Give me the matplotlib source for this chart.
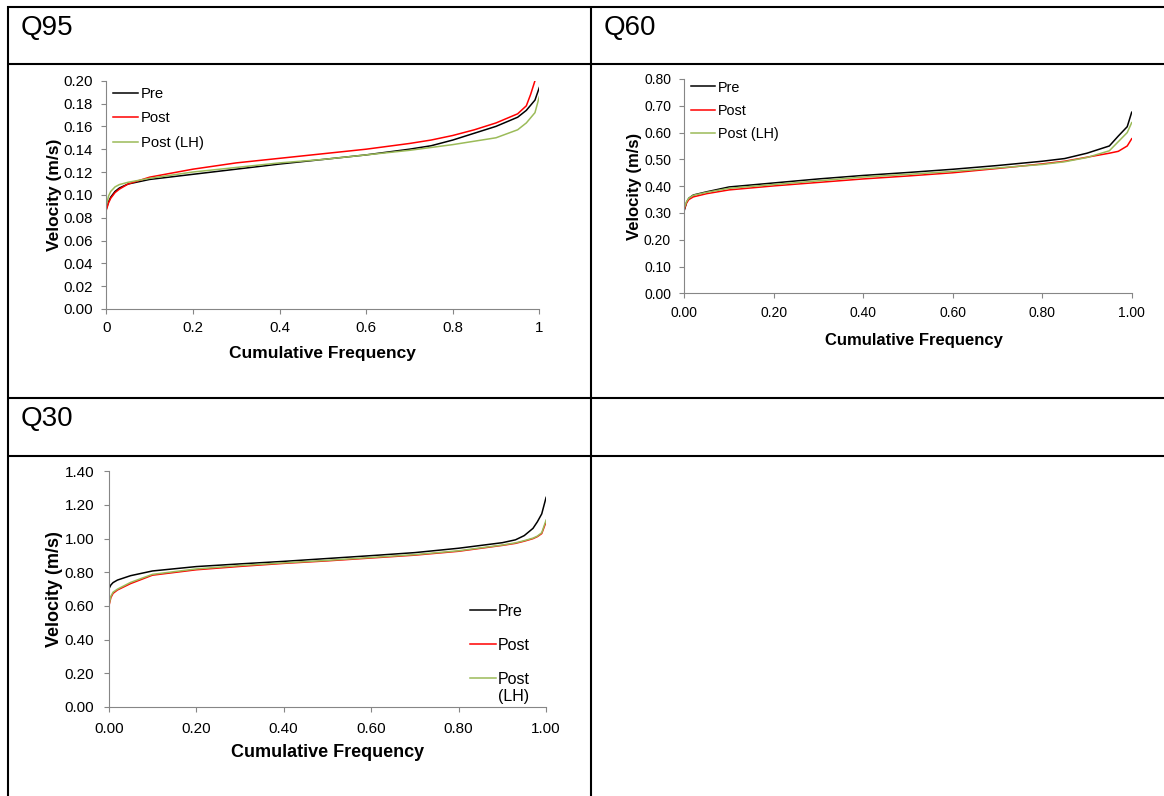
import numpy as np
import matplotlib
matplotlib.use("Agg")
import matplotlib.pyplot as plt
from matplotlib.lines import Line2D
from matplotlib.legend_handler import HandlerLine2D
from matplotlib.ticker import FuncFormatter

plt.rcParams['font.family'] = ['Liberation Sans', 'DejaVu Sans']

# ---------------- data ----------------
series_names = ["Pre", "Post", "Post (LH)"]

# Q95
q95_freq = [0, 0.005, 0.01, 0.02, 0.03, 0.05, 0.1, 0.2, 0.3, 0.4, 0.5, 0.6,
            0.7, 0.75, 0.8, 0.85, 0.9, 0.95, 0.97, 0.99, 1.0]
q95_pre = [0.088, 0.094, 0.098, 0.103, 0.106, 0.1095, 0.1135, 0.118, 0.1225,
           0.127, 0.131, 0.135, 0.140, 0.143, 0.148, 0.154, 0.160, 0.168,
           0.174, 0.183, 0.194]
q95_post_freq = [0, 0.005, 0.01, 0.02, 0.03, 0.05, 0.1, 0.2, 0.3, 0.4, 0.5,
                 0.6, 0.7, 0.75, 0.8, 0.85, 0.9, 0.95, 0.97, 0.98, 0.99]
q95_post = [0.087, 0.093, 0.097, 0.102, 0.105, 0.1095, 0.1155, 0.1225, 0.128,
            0.132, 0.136, 0.140, 0.145, 0.148, 0.152, 0.157, 0.163, 0.171,
            0.178, 0.188, 0.200]
q95_lh = [0.091, 0.099, 0.103, 0.107, 0.109, 0.111, 0.1145, 0.120, 0.124,
          0.128, 0.131, 0.135, 0.139, 0.1415, 0.144, 0.147, 0.150, 0.157,
          0.163, 0.172, 0.186]

# Q60
q60_freq = [0, 0.005, 0.01, 0.02, 0.05, 0.1, 0.2, 0.3, 0.4, 0.5, 0.6, 0.7,
            0.8, 0.85, 0.9, 0.95, 0.97, 0.99, 1.0]
q60_pre = [0.311, 0.340, 0.355, 0.367, 0.379, 0.397, 0.412, 0.427, 0.440,
           0.451, 0.463, 0.477, 0.493, 0.503, 0.523, 0.550, 0.587, 0.622, 0.676]
q60_post = [0.315, 0.338, 0.350, 0.360, 0.372, 0.386, 0.401, 0.414, 0.427,
            0.438, 0.450, 0.466, 0.483, 0.493, 0.508, 0.523, 0.530, 0.550, 0.577]
q60_lh = [0.320, 0.343, 0.355, 0.366, 0.377, 0.392, 0.406, 0.420, 0.434,
          0.444, 0.455, 0.468, 0.481, 0.491, 0.507, 0.532, 0.566, 0.600, 0.637]

# Q30
q30_freq = [0, 0.005, 0.01, 0.02, 0.05, 0.1, 0.2, 0.3, 0.4, 0.5, 0.6, 0.7,
            0.8, 0.9, 0.93, 0.95, 0.97, 0.98, 0.99, 1.0]
q30_pre = [0.699, 0.725, 0.739, 0.754, 0.780, 0.808, 0.834, 0.850, 0.865,
           0.882, 0.899, 0.917, 0.943, 0.976, 0.993, 1.018, 1.061, 1.100,
           1.147, 1.245]
q30_post = [0.595, 0.650, 0.675, 0.695, 0.733, 0.783, 0.815, 0.835, 0.853,
            0.868, 0.885, 0.902, 0.925, 0.960, 0.972, 0.985, 1.000, 1.012,
            1.030, 1.100]
q30_lh = [0.600, 0.658, 0.682, 0.700, 0.740, 0.788, 0.820, 0.840, 0.856,
          0.871, 0.888, 0.905, 0.928, 0.962, 0.975, 0.988, 1.003, 1.015,
          1.035, 1.110]

W, H = 1164, 796
GREY = "#868686"
C_PRE, C_POST, C_LH = "black", "#FF0000", "#9BBB59"


def fx(px):
    return px / W


def fy(py):
    return 1 - py / H


def make_axes(fig, left, right, top, bottom):
    return fig.add_axes([fx(left), fy(bottom), (right - left) / W, (bottom - top) / H])


class FirstLineHandler(HandlerLine2D):
    """Line handle aligned with the first line of a two-line label."""

    def __init__(self, lift, **kw):
        super().__init__(**kw)
        self._lift = lift

    def create_artists(self, legend, orig_handle, xdescent, ydescent, width,
                       height, fontsize, trans):
        arts = super().create_artists(legend, orig_handle, xdescent, ydescent,
                                      width, height, fontsize, trans)
        for a in arts:
            a.set_ydata(np.asarray(a.get_ydata()) + self._lift)
        return arts


def style_axes(ax, ymax, ystep, xfmt, tick_fs, xpad, ypad):
    ax.set_xlim(0, 1)
    ax.set_ylim(0, ymax)
    ax.set_xticks(np.linspace(0, 1, 6))
    ax.set_yticks(np.arange(0, ymax + ystep / 2, ystep))
    ax.xaxis.set_major_formatter(FuncFormatter(xfmt))
    ax.yaxis.set_major_formatter(FuncFormatter(lambda v, p: f"{v:.2f}"))
    for s in ("top", "right"):
        ax.spines[s].set_visible(False)
    for s in ("left", "bottom"):
        ax.spines[s].set_color(GREY)
        ax.spines[s].set_linewidth(0.8)
    ax.tick_params(direction="out", length=3.6, width=0.8, color=GREY,
                   labelsize=tick_fs, labelcolor="black")
    ax.tick_params(axis="x", pad=xpad)
    ax.tick_params(axis="y", pad=ypad)
    ax.patch.set_alpha(0)


def set_labels(ax, lab_fs, xl, yl):
    ax.set_xlabel("Cumulative Frequency", fontsize=lab_fs, fontweight="bold")
    ax.set_ylabel("Velocity (m/s)", fontsize=lab_fs, fontweight="bold")
    ax.xaxis.label.set_va("baseline")
    ax.xaxis.set_label_coords(*xl)
    ax.yaxis.label.set_va("center")
    ax.yaxis.set_label_coords(*yl)


fig = plt.figure(figsize=(W / 100, H / 100), dpi=100)

# ---------------- table grid ----------------
grid_kw = dict(color="black", linewidth=1.5, solid_capstyle="butt")
for yy in (7, 63.5, 398, 455.5):
    fig.add_artist(Line2D([fx(7), fx(W)], [fy(yy), fy(yy)], transform=fig.transFigure, **grid_kw))
for xx in (7.8, 591):
    fig.add_artist(Line2D([fx(xx), fx(xx)], [fy(6.3), fy(H)], transform=fig.transFigure, **grid_kw))

fig.text(fx(20.5), fy(35), "Q95", fontsize=20, ha="left", va="baseline")
fig.text(fx(603.5), fy(35), "Q60", fontsize=20, ha="left", va="baseline")
fig.text(fx(20.5), fy(426), "Q30", fontsize=20, ha="left", va="baseline")

lw = 1.1

# ---------------- Q95 ----------------
ax1 = make_axes(fig, 106.4, 539.3, 80.7, 309)
ax1.plot(q95_freq, q95_pre, color=C_PRE, lw=lw, label=series_names[0])
ax1.plot(q95_post_freq, q95_post, color=C_POST, lw=lw, label=series_names[1])
ax1.plot(q95_freq, q95_lh, color=C_LH, lw=lw, label=series_names[2])
style_axes(ax1, 0.20, 0.02, lambda v, p: f"{v:g}", 10.8, 4.7, 6.4)
set_labels(ax1, 12.5, (0.499, -0.213), (-0.121, 0.5015))
ax1.legend(loc="upper left", bbox_to_anchor=(fx(113), fy(87)),
           bbox_transform=fig.transFigure, frameon=False, fontsize=10.7,
           borderpad=0, borderaxespad=0, handlelength=1.68,
           handletextpad=0.2, labelspacing=0.70)

# ---------------- Q60 ----------------
ax2 = make_axes(fig, 684.4, 1131.7, 79, 293.3)
ax2.plot(q60_freq, q60_pre, color=C_PRE, lw=lw, label=series_names[0])
ax2.plot(q60_freq, q60_post, color=C_POST, lw=lw, label=series_names[1])
ax2.plot(q60_freq, q60_lh, color=C_LH, lw=lw, label=series_names[2])
style_axes(ax2, 0.80, 0.10, lambda v, p: f"{v:.2f}", 10.0, 5.6, 6.0)
set_labels(ax2, 12.0, (0.5135, -0.241), (-0.1125, 0.5007))
ax2.legend(loc="upper left", bbox_to_anchor=(fx(691.4), fy(80.5)),
           bbox_transform=fig.transFigure, frameon=False, fontsize=10.4,
           borderpad=0, borderaxespad=0, handlelength=1.66,
           handletextpad=0.17, labelspacing=0.65)

# ---------------- Q30 ----------------
ax3 = make_axes(fig, 108.7, 546.1, 471.3, 707)
h_pre, = ax3.plot(q30_freq, q30_pre, color=C_PRE, lw=lw)
h_post, = ax3.plot(q30_freq, q30_post, color=C_POST, lw=lw)
h_lh, = ax3.plot(q30_freq, q30_lh, color=C_LH, lw=lw)
style_axes(ax3, 1.40, 0.20, lambda v, p: f"{v:.2f}", 11.0, 7.0, 6.9)
set_labels(ax3, 13.0, (0.4995, -0.211), (-0.125, 0.4985))
ax3.legend([h_pre, h_post, h_lh], ["Pre", "Post", "Post\n(LH)"],
           loc="upper left", bbox_to_anchor=(fx(469.6), fy(604)),
           bbox_transform=fig.transFigure, frameon=False, fontsize=11.5,
           borderpad=0, borderaxespad=0, handlelength=1.63,
           handletextpad=0.12, labelspacing=1.19,
           handler_map={h_lh: FirstLineHandler(lift=7.8)})

fig.savefig("out.png", dpi=100, facecolor="white")
